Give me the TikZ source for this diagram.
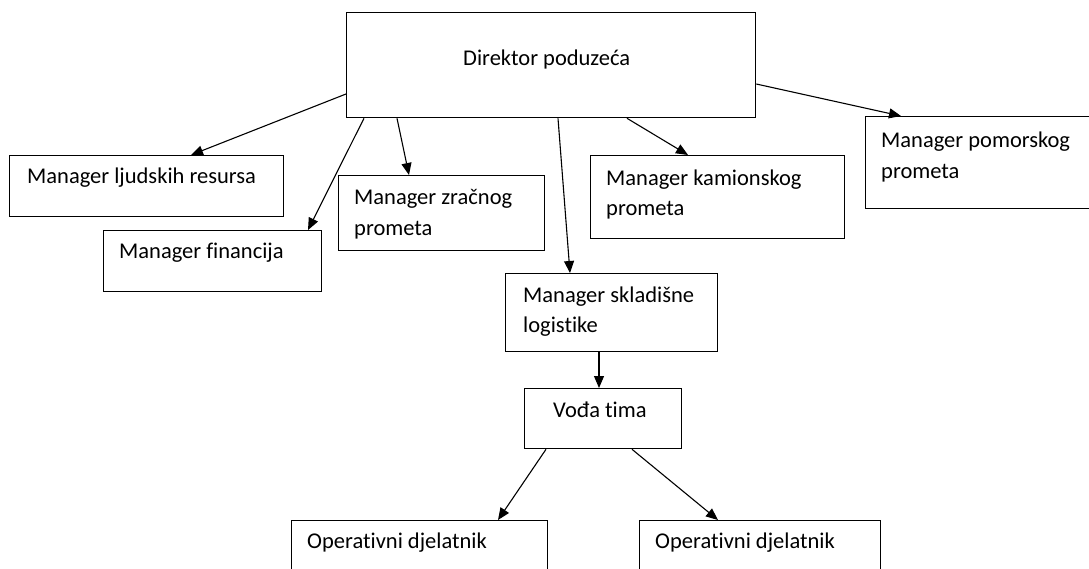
\documentclass[tikz,border=0pt]{standalone}
\usepackage{fontspec}
\setmainfont{Carlito}[Ligatures={NoCommon,NoContextual}]
\usetikzlibrary{arrows.meta,calc}
\begin{document}
\begin{tikzpicture}[x=1pt,y=-1pt,
  box/.style={draw=black, line width=1.3pt, inner sep=0pt, anchor=north west},
  lbl/.style={anchor=base west, inner sep=0pt, font=\fontsize{22.5}{27}\selectfont},
  conn/.style={draw=black, line width=1.1pt, -{Triangle[length=12pt,width=10pt]}}]
\useasboundingbox (0,0) rectangle (1089,568);
\clip (0,0) rectangle (1089,568);
% boxes
\node[box, minimum width=409pt, minimum height=105pt] (D) at (346,12) {};
\node[box, minimum width=274pt, minimum height=61pt] (L) at (9,155) {};
\node[box, minimum width=218pt, minimum height=61pt] (F) at (103,230) {};
\node[box, minimum width=206pt, minimum height=75pt] (Z) at (338,175) {};
\node[box, minimum width=254pt, minimum height=83pt] (K) at (590,155) {};
\node[box, minimum width=240pt, minimum height=92pt] (P) at (865,116) {};
\node[box, minimum width=212pt, minimum height=78pt] (S) at (505,273) {};
\node[box, minimum width=157pt, minimum height=60pt] (V) at (524,388) {};
\node[box, minimum width=256pt, minimum height=70pt] (O1) at (291,520) {};
\node[box, minimum width=241pt, minimum height=70pt] (O2) at (639,520) {};
% labels
\node[lbl] (tD) at ($(D.north west)+(117,53)$) {Direktor poduzeća};
\node[lbl] (tL) at ($(L.north west)+(18,28)$) {Manager ljudskih resursa};
\node[lbl] (tF) at ($(F.north west)+(16,28)$) {Manager financija};
\node[lbl] (tZa) at ($(Z.north west)+(16,29)$) {Manager zračnog};
\node[lbl] (tZb) at ($(Z.north west)+(16,60)$) {prometa};
\node[lbl] (tKa) at ($(K.north west)+(16,30)$) {Manager kamionskog};
\node[lbl] (tKb) at ($(K.north west)+(16,60)$) {prometa};
\node[lbl] (tPa) at ($(P.north west)+(16,31)$) {Manager pomorskog};
\node[lbl] (tPb) at ($(P.north west)+(16,62)$) {prometa};
\node[lbl] (tSa) at ($(S.north west)+(18,29)$) {Manager skladišne};
\node[lbl] (tSb) at ($(S.north west)+(18,59)$) {logistike};
\node[lbl] (tV) at ($(V.north west)+(29,29)$) {Vođa tima};
\node[lbl] (tO1) at ($(O1.north west)+(16,28)$) {Operativni djelatnik};
\node[lbl] (tO2) at ($(O2.north west)+(16,28)$) {Operativni djelatnik};
% connectors
\draw[conn] ($(D.north west)+(0,82)$) -- ($(L.north west)+(182,0)$);
\draw[conn] ($(D.south west)+(18,0)$) -- ($(F.north west)+(205,0)$);
\draw[conn] ($(D.south west)+(51,0)$) -- ($(Z.north west)+(71,0)$);
\draw[conn] ($(D.south west)+(212,0)$) -- ($(S.north west)+(65,0)$);
\draw[conn] ($(D.south west)+(281,0)$) -- ($(K.north west)+(98,0)$);
\draw[conn] ($(D.north east)+(0,72)$) -- ($(P.north west)+(36,0)$);
\draw[conn] ($(S.south west)+(94,0)$) -- ($(V.north west)+(75,0)$);
\draw[conn] ($(V.south west)+(22,0)$) -- ($(O1.north west)+(207,0)$);
\draw[conn] ($(V.south west)+(108,0)$) -- ($(O2.north west)+(79,0)$);
\end{tikzpicture}
\end{document}
